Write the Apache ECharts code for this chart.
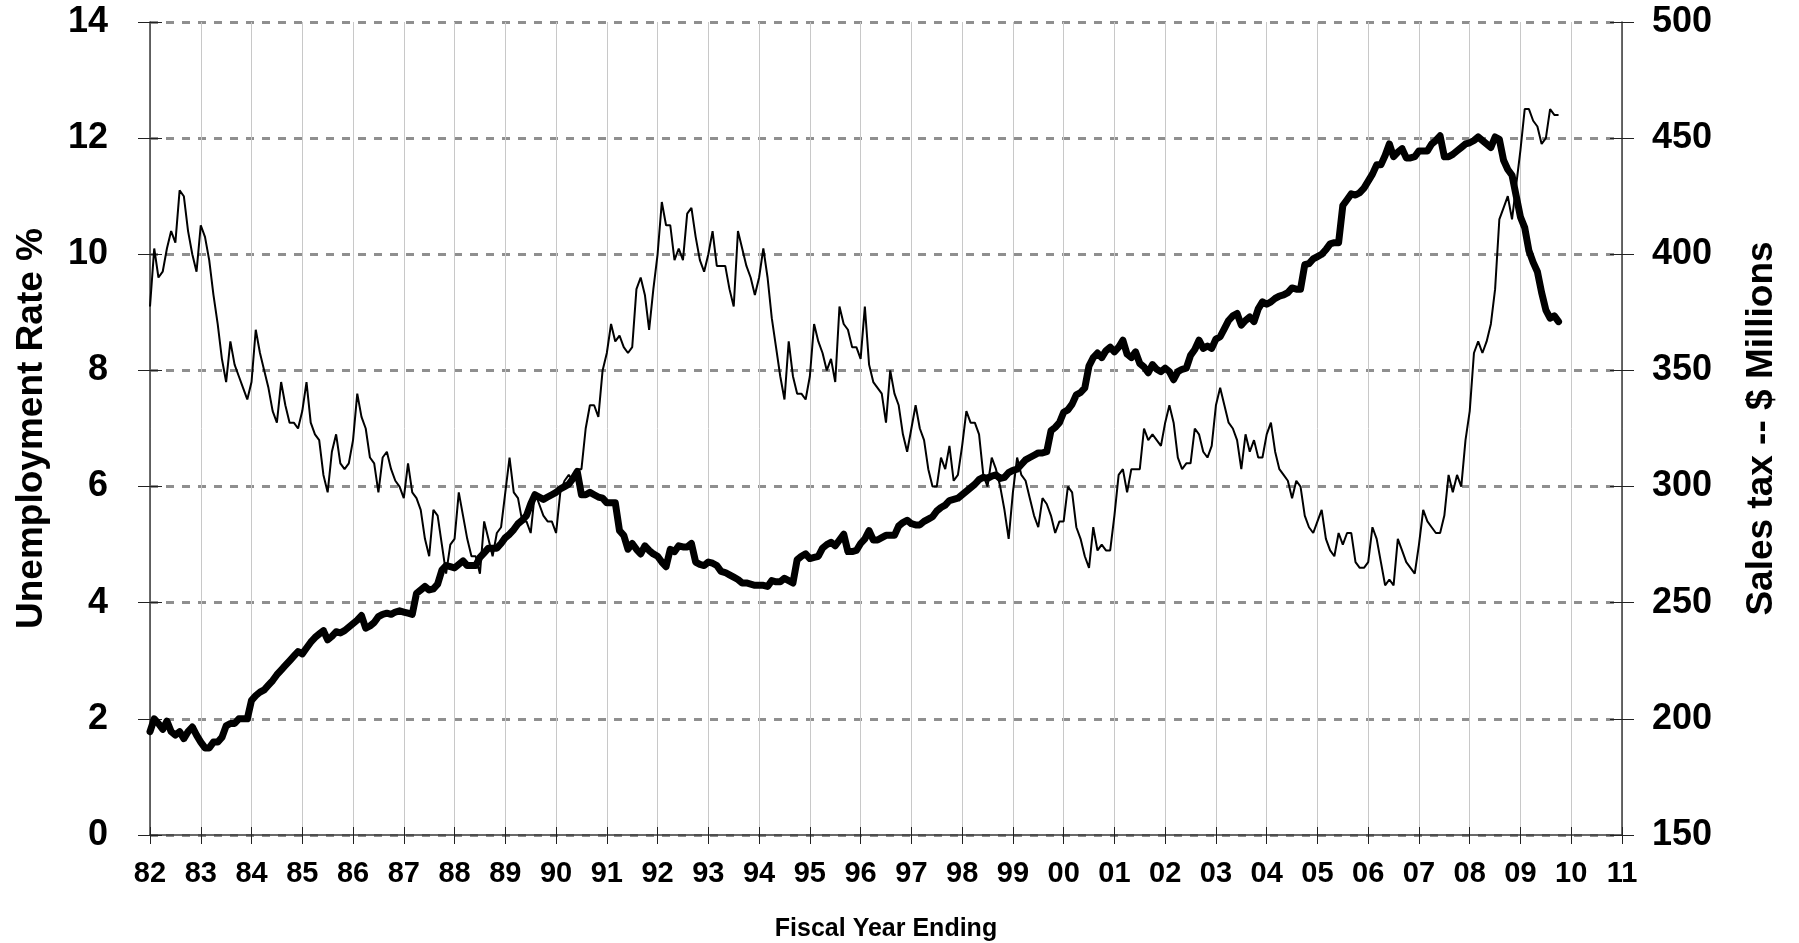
<!DOCTYPE html>
<html>
<head>
<meta charset="utf-8">
<script src="https://cdn.jsdelivr.net/npm/echarts@6/dist/echarts.min.js"></script>
<style>
    html, body { margin: 0; padding: 0; background: #fff; }
    #container { width: 1799px; height: 943px; }
</style>
</head>
<body>
<div id="container"></div>
<script>
// monthly series, first point = start of fiscal 82
var startYear = 1982;
var yearTicks = [1982, 2011];

// unemployment rate %, thin line (left axis)
var unemployment = [
    9.1, 10.1, 9.6, 9.7, 10.1, 10.4, 10.2, 11.1, 11.0, 10.4, 10.0, 9.7,
    10.5, 10.3, 9.9, 9.3, 8.8, 8.2, 7.8, 8.5, 8.1, 7.9, 7.7, 7.5,
    7.8, 8.7, 8.3, 8.0, 7.7, 7.3, 7.1, 7.8, 7.4, 7.1, 7.1, 7.0,
    7.3, 7.8, 7.1, 6.9, 6.8, 6.2, 5.9, 6.6, 6.9, 6.4, 6.3, 6.4,
    6.8, 7.6, 7.2, 7.0, 6.5, 6.4, 5.9, 6.5, 6.6, 6.3, 6.1, 6.0,
    5.8, 6.4, 5.9, 5.8, 5.6, 5.1, 4.8, 5.6, 5.5, 5.0, 4.5, 5.0,
    5.1, 5.9, 5.5, 5.1, 4.8, 4.8, 4.5, 5.4, 5.1, 4.8, 5.2, 5.3,
    5.9, 6.5, 5.9, 5.8, 5.4, 5.4, 5.2, 5.9, 5.7, 5.5, 5.4, 5.4,
    5.2, 5.9, 6.1, 6.2, 6.1, 6.3, 6.3, 7.0, 7.4, 7.4, 7.2, 8.0,
    8.3, 8.8, 8.5, 8.6, 8.4, 8.3, 8.4, 9.4, 9.6, 9.3, 8.7, 9.4,
    10.0, 10.9, 10.5, 10.5, 9.9, 10.1, 9.9, 10.7, 10.8, 10.3, 9.9, 9.7,
    10.0, 10.4, 9.8, 9.8, 9.8, 9.4, 9.1, 10.4, 10.1, 9.8, 9.6, 9.3,
    9.6, 10.1, 9.6, 8.9, 8.4, 7.9, 7.5, 8.5, 7.9, 7.6, 7.6, 7.5,
    7.9, 8.8, 8.5, 8.3, 8.0, 8.2, 7.8, 9.1, 8.8, 8.7, 8.4, 8.4,
    8.2, 9.1, 8.1, 7.8, 7.7, 7.6, 7.1, 8.0, 7.6, 7.4, 6.9, 6.6,
    7.0, 7.4, 7.0, 6.8, 6.3, 6.0, 6.0, 6.5, 6.3, 6.7, 6.1, 6.2,
    6.7, 7.3, 7.1, 7.1, 6.9, 6.2, 6.0, 6.5, 6.3, 6.0, 5.6, 5.1,
    5.9, 6.5, 6.2, 6.1, 5.8, 5.5, 5.3, 5.8, 5.7, 5.5, 5.2, 5.4,
    5.4, 6.0, 5.9, 5.3, 5.1, 4.8, 4.6, 5.3, 4.9, 5.0, 4.9, 4.9,
    5.5, 6.2, 6.3, 5.9, 6.3, 6.3, 6.3, 7.0, 6.8, 6.9, 6.8, 6.7,
    7.1, 7.4, 7.1, 6.5, 6.3, 6.4, 6.4, 7.0, 6.9, 6.6, 6.5, 6.7,
    7.4, 7.7, 7.4, 7.1, 7.0, 6.8, 6.3, 6.9, 6.6, 6.8, 6.5, 6.5,
    6.9, 7.1, 6.6, 6.3, 6.2, 6.1, 5.8, 6.1, 6.0, 5.5, 5.3, 5.2,
    5.4, 5.6, 5.1, 4.9, 4.8, 5.2, 5.0, 5.2, 5.2, 4.7, 4.6, 4.6,
    4.7, 5.3, 5.1, 4.7, 4.3, 4.4, 4.3, 5.1, 4.9, 4.7, 4.6, 4.5,
    5.0, 5.6, 5.4, 5.3, 5.2, 5.2, 5.5, 6.2, 5.9, 6.2, 6.0, 6.8,
    7.3, 8.3, 8.5, 8.3, 8.5, 8.8, 9.4, 10.6, 10.8, 11.0, 10.6, 11.2,
    11.8, 12.5, 12.5, 12.3, 12.2, 11.9, 12.0, 12.5, 12.4, 12.4
];

// sales tax $ millions, thick line (right axis)
var salesTax = [
    194.5, 200, 198, 195.5, 199, 194.5, 193, 194.5, 191.5, 194.5, 196.5, 193,
    190, 187.5, 187.5, 190, 190, 192, 197, 198, 198, 200, 200, 200,
    208, 210, 211.5, 212.5, 214.5, 216.5, 219, 221, 223, 225, 227, 229,
    228, 230.5, 233, 235, 236.5, 238, 234, 235.5, 237.5, 237, 238, 239.5,
    241, 242.5, 244.5, 239, 240, 241.5, 244, 245, 245.5, 245, 246, 246.5,
    246, 245.5, 245, 254, 255.5, 257, 255.5, 256, 258, 264, 266, 265.5,
    265, 266.5, 268, 266, 266, 266, 269.5, 271.5, 273.5, 273.5, 273.5, 275.5,
    278, 279.5, 281.5, 284, 285.5, 287.5, 292.5, 296.5, 295.5, 294.5, 295.5, 296.5,
    297.5, 299, 300, 301, 303.5, 306.5, 296.5, 296.5, 297.5, 296.5, 295.5, 295,
    293, 293, 293, 281, 279, 273, 275.5, 273, 271, 274.5, 272.5, 271,
    270, 267.5, 265.5, 273, 272, 274.5, 274, 274, 275.5, 267.5, 266.5, 266,
    267.5, 267, 266, 263.5, 263, 262, 261, 260, 258.5, 258.5, 258, 257.5,
    257.5, 257.5, 257, 259.5, 259, 259, 260.5, 259.5, 258.5, 268.5, 270, 271,
    269, 269.5, 270, 273.5, 275, 276, 274.5, 277, 279.5, 272, 272, 272.5,
    275.5, 277.5, 281, 277, 277, 278, 279, 279, 279, 283, 284.5, 285.5,
    284, 283.5, 283.5, 285, 286, 287, 289.5, 291, 292, 294, 294.5, 295,
    296.5, 298, 299.5, 301, 303, 304, 303.5, 304.5, 305, 303.5, 304, 306,
    307, 307.5, 309.5, 311.5, 312.5, 313.5, 314.5, 314.5, 315, 324, 325.5, 327.5,
    332, 333, 335.5, 339.5, 340.5, 342.5, 352, 355.5, 357.5, 355.5, 358.5, 360,
    358, 360, 363, 357, 355.5, 358, 353, 351.5, 349, 352.5, 350.5, 349.5,
    351, 349.5, 346, 349.5, 350.5, 351, 356.5, 359, 363, 359.5, 360.5, 359.5,
    363.5, 364.5, 368, 371.5, 373.5, 374.5, 369.5, 371.5, 373, 371, 376.5, 379.5,
    378.5, 379.5, 381, 382, 382.5, 383.5, 385.5, 385, 385, 395.5, 396, 398,
    399, 400, 402, 404.5, 405, 405, 421, 423.5, 426, 425.5, 426.5, 428.5,
    431.5, 434.5, 438.5, 438.5, 442.5, 447.5, 442, 444, 445.5, 441.5, 441.5, 442,
    444.5, 444.5, 444.5, 447.5, 449, 451, 442, 442, 443, 444.5, 446, 447.5,
    448, 449, 450.5, 449, 447.5, 446, 450.5, 449.5, 440.5, 436.5, 434, 425,
    416, 411.5, 401.5, 396.5, 392.5, 383.5, 376, 372.5, 373.5, 371
];

var leftTicks = [0, 14, 2];
var rightTicks = [150, 500, 50];

window.addEventListener('load', function () {
    initChart();
});

function toPairs(arr) {
    return arr.map(function (v, i) {
        return [startYear + i / 12, v];
    });
}

function initChart() {
    var dom = document.getElementById("container");
    var myChart = echarts.init(dom, null, { renderer: 'canvas' });
    var font = "'Liberation Sans', Arial, sans-serif";
    var tickStyle = { color: '#222', width: 1 };
    var option = {
        animation: false,
        backgroundColor: '#fff',
        textStyle: { fontFamily: font },
        grid: { left: 150, right: 177, top: 22, bottom: 108, outerBoundsMode: 'none', containLabel: false },
        xAxis: [{
            type: 'value',
            min: yearTicks[0],
            max: yearTicks[1],
            interval: 1,
            position: 'bottom',
            name: 'Fiscal Year Ending',
            nameLocation: 'middle',
            nameGap: 82,
            nameTextStyle: { fontSize: 25, fontWeight: 'bold', color: '#000', fontFamily: font },
            axisLine: { lineStyle: { color: '#3a3a3a', width: 1.5 } },
            axisTick: { length: 9, lineStyle: tickStyle },
            axisLabel: {
                margin: 24,
                fontSize: 29,
                fontWeight: 'bold',
                color: '#000',
                fontFamily: font,
                formatter: function (v) {
                    var y = Math.round(v) % 100;
                    return (y < 10 ? '0' : '') + y;
                }
            },
            splitLine: { show: true, lineStyle: { color: '#c8c8c8', width: 1 } }
        }, {
            // inner half of the crossing ticks
            type: 'value',
            min: yearTicks[0],
            max: yearTicks[1],
            interval: 1,
            position: 'bottom',
            axisLine: { show: false },
            axisTick: { inside: true, length: 8, lineStyle: tickStyle },
            axisLabel: { show: false },
            splitLine: { show: false }
        }],
        yAxis: [{
            type: 'value',
            position: 'left',
            min: leftTicks[0],
            max: leftTicks[1],
            interval: leftTicks[2],
            name: 'Unemployment Rate %',
            nameLocation: 'middle',
            nameGap: 100,
            nameTextStyle: { fontSize: 37, fontWeight: 'bold', color: '#000', fontFamily: font },
            axisLine: { show: true, lineStyle: { color: '#3a3a3a', width: 1.5 } },
            axisTick: { show: true, length: 12, lineStyle: tickStyle },
            axisLabel: { margin: 42, fontSize: 36, fontWeight: 'bold', color: '#000', fontFamily: font },
            splitLine: { show: true, lineStyle: { color: '#8f8f8f', width: 3, type: [8, 8] } }
        }, {
            type: 'value',
            position: 'right',
            min: rightTicks[0],
            max: rightTicks[1],
            interval: rightTicks[2],
            name: 'Sales tax -- $ Millions',
            nameLocation: 'middle',
            nameGap: 121,
            nameRotate: 90,
            nameTextStyle: { fontSize: 37, fontWeight: 'bold', color: '#000', fontFamily: font },
            axisLine: { show: true, lineStyle: { color: '#3a3a3a', width: 1.5 } },
            axisTick: { show: true, length: 12, lineStyle: tickStyle },
            axisLabel: { margin: 30, fontSize: 36, fontWeight: 'bold', color: '#000', fontFamily: font },
            splitLine: { show: false }
        }, {
            type: 'value',
            position: 'left',
            min: leftTicks[0],
            max: leftTicks[1],
            interval: leftTicks[2],
            axisLine: { show: false },
            axisTick: { show: true, inside: true, length: 12, lineStyle: tickStyle },
            axisLabel: { show: false },
            splitLine: { show: false }
        }, {
            type: 'value',
            position: 'right',
            min: rightTicks[0],
            max: rightTicks[1],
            interval: rightTicks[2],
            axisLine: { show: false },
            axisTick: { show: true, inside: true, length: 12, lineStyle: tickStyle },
            axisLabel: { show: false },
            splitLine: { show: false }
        }],
        series: [{
            name: 'Unemployment Rate %',
            type: 'line',
            xAxisIndex: 0,
            yAxisIndex: 0,
            showSymbol: false,
            symbol: 'none',
            z: 3,
            lineStyle: { color: '#000', width: 2 },
            data: toPairs(unemployment)
        }, {
            name: 'Sales tax',
            type: 'line',
            xAxisIndex: 0,
            yAxisIndex: 1,
            showSymbol: false,
            symbol: 'none',
            z: 4,
            lineStyle: { color: '#000', width: 7, join: 'round', cap: 'round' },
            data: toPairs(salesTax)
        }]
    };
    if (option && typeof option === "object") {
        myChart.setOption(option, true);
    }
}
</script>
</body>
</html>
